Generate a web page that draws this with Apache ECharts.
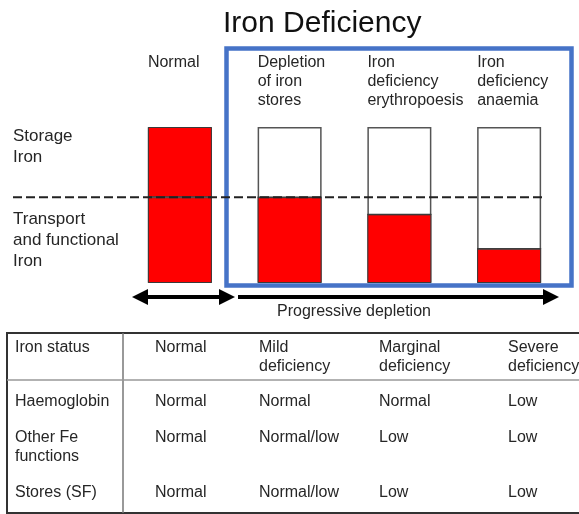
<!DOCTYPE html>
<html lang="en">
<head>
    <meta charset="UTF-8">
    <title>Iron Deficiency</title>
    <script src="https://cdn.jsdelivr.net/npm/echarts@6.0.0/dist/echarts.min.js"></script>
    <style>
        html, body, #main {
            width: 100%;
            height: 100%;
            margin: 0;
            padding: 0;
            background: #fff;
        }
        body {
            overflow: hidden;
        }
    </style>
</head>
<body>
    <div id="main"></div>
    <script>
        // stages of iron depletion (bar categories)
        const stages = ['Normal', 'Depletion\nof iron\nstores', 'Iron\ndeficiency\nerythropoesis', 'Iron\ndeficiency\nanaemia'];
        // body iron, as % of a full normal store
        const transportIron = [55, 55, 44, 22];
        const storageIron = [45, 0, 0, 0];
        const fullLevel = [100, 100, 100, 100];

        // table under the diagram
        const tableHeader = ['Iron status', 'Normal', 'Mild\ndeficiency', 'Marginal\ndeficiency', 'Severe\ndeficiency'];
        const rowLabels = ['Haemoglobin', 'Other Fe\nfunctions', 'Stores (SF)'];
        const haemoglobin = ['Normal', 'Normal', 'Normal', 'Low'];
        const otherFe = ['Normal', 'Normal/low', 'Low', 'Low'];
        const stores = ['Normal', 'Normal/low', 'Low', 'Low'];

        const FONT = "'Liberation Sans', Arial, sans-serif";
        const TEXT = '#262626';

        var chart = echarts.init(document.getElementById('main'));

        var option = {
            animation: false,
            title: {
                text: 'Iron Deficiency',
                left: 218,
                top: 4,
                textStyle: { fontFamily: FONT, fontSize: 30, fontWeight: 'normal', color: '#111' }
            },
            grid: { left: 125, right: 15, top: 127, bottom: 231 },
            xAxis: { type: 'category', data: stages, show: false },
            yAxis: { type: 'value', min: 0, max: 100, show: false },
            series: [
                {
                    // empty outline of each bar, carries the stage labels
                    name: 'capacity',
                    type: 'bar',
                    data: fullLevel,
                    barWidth: 64,
                    barGap: '-100%',
                    itemStyle: { color: '#fff', borderColor: '#555', borderWidth: 1.5 },
                    label: {
                        show: true,
                        formatter: '{b}',
                        position: [0, -74],
                        align: 'left',
                        verticalAlign: 'top',
                        fontFamily: FONT,
                        fontSize: 16,
                        lineHeight: 19,
                        color: TEXT
                    },
                    z: 1
                },
                {
                    name: 'Transport and functional iron',
                    type: 'bar',
                    stack: 'iron',
                    data: transportIron,
                    barWidth: 64,
                    itemStyle: { color: '#ff0000', borderColor: '#3a3a3a', borderWidth: 1 },
                    z: 2
                },
                {
                    name: 'Storage iron',
                    type: 'bar',
                    stack: 'iron',
                    data: storageIron,
                    barWidth: 64,
                    itemStyle: { color: '#ff0000', borderColor: '#3a3a3a', borderWidth: 1 },
                    z: 2
                }
            ]
        };
        chart.setOption(option);

        // y of the storage / transport boundary
        const yLine = chart.convertToPixel({ yAxisIndex: 0 }, transportIron[0]);

        function txt(text, x, y, size, lh, align) {
            return {
                type: 'text',
                z: 20,
                style: {
                    text: text, x: x, y: y,
                    font: size + 'px ' + FONT,
                    fill: TEXT,
                    lineHeight: lh,
                    align: align || 'left',
                    verticalAlign: 'top'
                }
            };
        }

        function arrowHead(tipX, y, dir) {
            // dir = 1 points right, -1 points left
            return {
                type: 'polygon',
                z: 20,
                shape: { points: [[tipX, y], [tipX - dir * 16, y - 8], [tipX - dir * 16, y + 8]] },
                style: { fill: '#000' }
            };
        }

        const g = [];
        // blue frame round the deficiency stages
        g.push({
            type: 'rect', z: 15,
            shape: { x: 226.5, y: 48.5, width: 345, height: 237 },
            style: { fill: 'none', stroke: '#4673c7', lineWidth: 4.5 }
        });
        // dashed boundary line
        g.push({
            type: 'line', z: 20,
            shape: { x1: 13, y1: yLine, x2: 545, y2: yLine },
            style: { stroke: '#222', lineWidth: 2, lineDash: [9, 4] }
        });
        // left labels
        g.push(txt('Storage\nIron', 13, 125.5, 17, 21));
        g.push(txt('Transport\nand functional\nIron', 13, 208.5, 17, 21));

        // arrows
        g.push({ type: 'line', z: 20, shape: { x1: 142, y1: 297, x2: 225, y2: 297 }, style: { stroke: '#000', lineWidth: 4 } });
        g.push(arrowHead(132, 297, -1));
        g.push(arrowHead(235, 297, 1));
        g.push({ type: 'line', z: 20, shape: { x1: 238, y1: 297, x2: 548, y2: 297 }, style: { stroke: '#000', lineWidth: 4 } });
        g.push(arrowHead(559, 297, 1));
        g.push(txt('Progressive depletion', 354, 303, 16, 18, 'center'));

        // table frame
        g.push({
            type: 'rect', z: 10,
            shape: { x: 7, y: 333, width: 580, height: 180 },
            style: { fill: 'none', stroke: '#333', lineWidth: 2 }
        });
        g.push({ type: 'line', z: 10, shape: { x1: 123, y1: 333, x2: 123, y2: 513 }, style: { stroke: '#777', lineWidth: 1.5 } });
        g.push({ type: 'line', z: 10, shape: { x1: 7, y1: 380, x2: 579, y2: 380 }, style: { stroke: '#999', lineWidth: 1.5 } });

        const colX = [15, 155, 259, 379, 508];
        const rowY = [402, 438, 493];
        tableHeader.forEach(function (h, i) {
            g.push(txt(h, colX[i], 338.5, 16, 19));
        });
        const rows = [haemoglobin, otherFe, stores];
        rows.forEach(function (vals, r) {
            g.push(txt(rowLabels[r], colX[0], rowY[r] - 9.5, 16, 19));
            vals.forEach(function (v, c) {
                g.push(txt(v, colX[c + 1], rowY[r] - 9.5, 16, 19));
            });
        });

        chart.setOption({ graphic: g });

        window.addEventListener('resize', function () {
            chart.resize();
        });
    </script>
</body>
</html>
